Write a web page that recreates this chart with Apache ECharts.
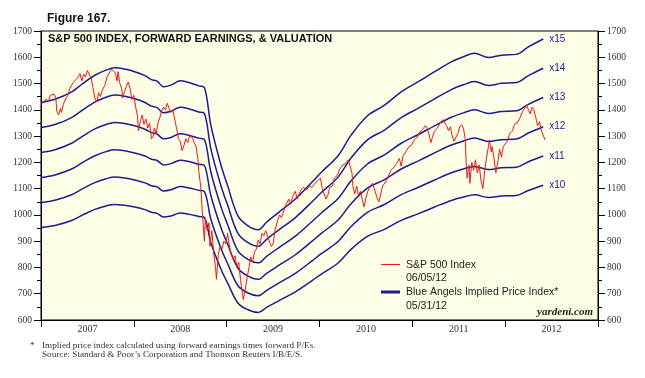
<!DOCTYPE html>
<html><head><meta charset="utf-8">
<script src="https://cdn.jsdelivr.net/npm/echarts@6/dist/echarts.min.js"></script>
<style>html,body{margin:0;padding:0;background:#fff}#c{width:645px;height:378px}</style>
</head><body><div id="c"></div>
<script>
// ---- DATA ----
const yearLabels = ['2007','2008','2009','2010','2011','2012'];
const yTicks = [600,700,800,900,1000,1100,1200,1300,1400,1500,1600,1700];
const multiples = [10,11,12,13,14,15];
// forward earnings (implied price index / P/E)
const earnYears = [2007.00,2007.15,2007.33,2007.45,2007.58,2007.70,2007.79,2007.90,2008.01,2008.12,2008.19,2008.25,2008.32,2008.40,2008.50,2008.60,2008.70,2008.76,2008.83,2008.94,2009.01,2009.12,2009.23,2009.34,2009.43,2009.56,2009.74,2009.92,2010.02,2010.20,2010.34,2010.52,2010.70,2010.88,2011.06,2011.24,2011.42,2011.55,2011.67,2011.82,2011.96,2012.12,2012.25,2012.41];
const earnValues = [95.2,96.0,97.9,100.0,102.1,103.4,104.0,103.7,103.0,102.0,101.0,100.6,99.2,99.6,100.7,100.2,99.4,99.0,89.4,79.2,74.1,66.5,63.9,62.9,64.8,67.3,70.7,75.0,77.5,81.7,86.9,91.9,94.5,97.9,100.4,103.0,105.5,106.8,107.7,106.6,107.2,107.4,109.3,111.3];
// S&P 500 index
const spxYears = [2007.00,2007.02,2007.04,2007.06,2007.08,2007.10,2007.12,2007.14,2007.16,2007.17,2007.19,2007.21,2007.22,2007.24,2007.27,2007.29,2007.31,2007.33,2007.35,2007.37,2007.39,2007.41,2007.42,2007.44,2007.46,2007.48,2007.50,2007.52,2007.54,2007.56,2007.58,2007.60,2007.62,2007.64,2007.66,2007.69,2007.71,2007.73,2007.76,2007.78,2007.80,2007.82,2007.83,2007.85,2007.87,2007.88,2007.90,2007.92,2007.94,2007.96,2007.98,2008.00,2008.02,2008.04,2008.05,2008.07,2008.09,2008.11,2008.13,2008.15,2008.17,2008.19,2008.21,2008.22,2008.24,2008.26,2008.28,2008.30,2008.32,2008.34,2008.36,2008.38,2008.40,2008.42,2008.44,2008.46,2008.48,2008.50,2008.52,2008.54,2008.56,2008.58,2008.60,2008.63,2008.65,2008.67,2008.69,2008.70,2008.72,2008.74,2008.76,2008.77,2008.79,2008.81,2008.82,2008.84,2008.86,2008.88,2008.89,2008.91,2008.93,2008.95,2008.97,2008.99,2009.01,2009.03,2009.05,2009.07,2009.09,2009.11,2009.13,2009.15,2009.17,2009.18,2009.20,2009.22,2009.24,2009.26,2009.28,2009.30,2009.32,2009.34,2009.36,2009.38,2009.40,2009.42,2009.44,2009.46,2009.48,2009.50,2009.52,2009.55,2009.57,2009.59,2009.62,2009.64,2009.67,2009.69,2009.71,2009.74,2009.76,2009.78,2009.80,2009.83,2009.86,2009.89,2009.92,2009.95,2009.98,2010.01,2010.03,2010.05,2010.07,2010.09,2010.11,2010.14,2010.16,2010.19,2010.22,2010.25,2010.28,2010.31,2010.33,2010.35,2010.36,2010.38,2010.40,2010.42,2010.44,2010.46,2010.48,2010.50,2010.52,2010.55,2010.57,2010.60,2010.62,2010.64,2010.66,2010.68,2010.71,2010.74,2010.77,2010.80,2010.83,2010.86,2010.88,2010.90,2010.93,2010.96,2010.99,2011.02,2011.05,2011.08,2011.11,2011.14,2011.16,2011.18,2011.20,2011.22,2011.24,2011.27,2011.30,2011.33,2011.35,2011.37,2011.39,2011.41,2011.43,2011.45,2011.47,2011.49,2011.51,2011.53,2011.55,2011.57,2011.58,2011.59,2011.61,2011.62,2011.64,2011.66,2011.68,2011.70,2011.72,2011.74,2011.76,2011.78,2011.80,2011.82,2011.83,2011.85,2011.86,2011.88,2011.90,2011.92,2011.94,2011.96,2011.98,2012.00,2012.02,2012.05,2012.08,2012.10,2012.13,2012.16,2012.19,2012.21,2012.23,2012.25,2012.27,2012.29,2012.31,2012.33,2012.35,2012.37,2012.39,2012.41,2012.43];
const spxValues = [1418,1430,1425,1440,1432,1455,1448,1460,1445,1395,1380,1405,1390,1420,1445,1455,1480,1494,1505,1500,1520,1530,1538,1510,1535,1525,1550,1545,1520,1485,1445,1430,1465,1450,1475,1495,1525,1520,1555,1562,1540,1510,1545,1500,1480,1445,1470,1490,1505,1480,1440,1455,1410,1375,1320,1355,1380,1345,1365,1330,1350,1290,1300,1330,1310,1350,1370,1395,1410,1400,1425,1405,1390,1400,1365,1330,1290,1280,1245,1265,1290,1275,1300,1295,1275,1260,1215,1165,1110,1000,900,985,940,970,880,940,855,800,755,850,880,870,900,890,930,880,850,830,845,800,820,750,700,678,715,760,800,840,820,860,870,905,890,930,920,940,935,900,880,890,940,980,1000,990,1020,1040,1060,1040,1070,1090,1060,1080,1095,1105,1095,1110,1105,1120,1130,1140,1100,1080,1060,1075,1105,1110,1140,1150,1175,1190,1195,1210,1215,1160,1110,1080,1110,1075,1090,1060,1030,1065,1090,1110,1120,1090,1065,1050,1080,1110,1125,1145,1170,1180,1195,1215,1185,1225,1240,1258,1265,1285,1295,1315,1325,1340,1330,1305,1275,1300,1320,1330,1350,1363,1350,1340,1320,1335,1300,1280,1275,1310,1335,1343,1330,1290,1200,1140,1190,1120,1200,1170,1210,1160,1190,1130,1100,1170,1220,1260,1285,1240,1260,1215,1160,1200,1250,1220,1260,1265,1280,1310,1320,1345,1350,1370,1395,1405,1418,1400,1385,1410,1400,1370,1340,1355,1320,1315,1285];

// ---- CHART ----
const BLUE = '#1c1c94', RED = '#e8191b';
const serif = '"Liberation Serif", "DejaVu Serif", serif';
const sans = '"Liberation Sans", Arial, sans-serif';
const chart = echarts.init(document.getElementById('c'), null, {renderer:'canvas'});

const blueSeries = multiples.map(m => ({
  type:'line', xAxisIndex:1, yAxisIndex:0, symbol:'none', z:2, smooth:0.35,
  data: earnYears.map((x,i)=>[x, earnValues[i]*m]),
  lineStyle:{color:BLUE, width:1.5},
  endLabel:{show:true, formatter:'x'+m, distance:6, color:BLUE, fontFamily:sans, fontSize:10}
}));
const redSeries = {
  type:'line', xAxisIndex:1, yAxisIndex:0, symbol:'none', z:3,
  data: spxYears.map((x,i)=>[x, spxValues[i]]),
  lineStyle:{color:RED, width:1}
};
const yAx = (pos) => ({
  type:'value', position:pos, min:yTicks[0], max:yTicks[yTicks.length-1], interval:100,
  axisLine:{show:true, lineStyle:{color:'#000', width:1}},
  axisTick:{show:true, length:7, lineStyle:{color:'#000'}},
  minorTick:{show:true, splitNumber:2, length:4, lineStyle:{color:'#000'}},
  splitLine:{show:false},
  axisLabel:{margin:9, color:'#333', fontFamily:serif, fontSize:9.5, formatter: v => String(v)}
});

chart.setOption({
  animation:false,
  grid:{left:41, right:47, top:31, bottom:58, show:true, backgroundColor:'#fefee6', borderColor:'#000', borderWidth:1},
  xAxis:[
    {type:'category', data:yearLabels, boundaryGap:true,
     axisLine:{lineStyle:{color:'#000'}},
     axisTick:{show:true, interval:0, length:7, lineStyle:{color:'#000'}},
     axisLabel:{margin:4, color:'#333', fontFamily:serif, fontSize:10}},
    {type:'value', min:2007, max:2013, show:false}
  ],
  yAxis:[yAx('left'), yAx('right')],
  series:[...blueSeries, redSeries],
  graphic:[
    {type:'text', left:47, top:13, style:{text:'Figure 167.', font:'bold 12px '+sans, fill:'#111'}},
    {type:'text', left:48, top:33, style:{text:'S&P 500 INDEX, FORWARD EARNINGS, & VALUATION', font:'bold 11px '+sans, fill:'#111'}},
    {type:'line', shape:{x1:381,y1:264.5,x2:400,y2:264.5}, style:{stroke:RED, lineWidth:1}},
    {type:'text', x:406, y:265, style:{text:'S&P 500 Index', font:'10.5px '+sans, fill:'#222', verticalAlign:'middle'}},
    {type:'text', x:406, y:278, style:{text:'06/05/12', font:'10.5px '+sans, fill:'#222', verticalAlign:'middle'}},
    {type:'line', shape:{x1:381,y1:292,x2:400,y2:292}, style:{stroke:BLUE, lineWidth:3}},
    {type:'text', x:406, y:292, style:{text:'Blue Angels Implied Price Index*', font:'10.5px '+sans, fill:'#222', verticalAlign:'middle'}},
    {type:'text', x:406, y:306, style:{text:'05/31/12', font:'10.5px '+sans, fill:'#222', verticalAlign:'middle'}},
    {type:'text', x:593, y:312, style:{text:'yardeni.com', font:'italic bold 11px '+serif, fill:'#222', align:'right', verticalAlign:'middle'}},
    {type:'text', x:30, y:346, style:{text:'*', font:'9.2px '+serif, fill:'#333', verticalAlign:'middle'}},
    {type:'text', x:42, y:346, style:{text:'Implied price index calculated using forward earnings times forward P/Es.', font:'9.2px '+serif, fill:'#333', verticalAlign:'middle'}},
    {type:'text', x:42, y:355, style:{text:"Source: Standard & Poor\u2019s Corporation and Thomson Reuters I/B/E/S.", font:'9.2px '+serif, fill:'#333', verticalAlign:'middle'}}
  ]
});
</script></body></html>
